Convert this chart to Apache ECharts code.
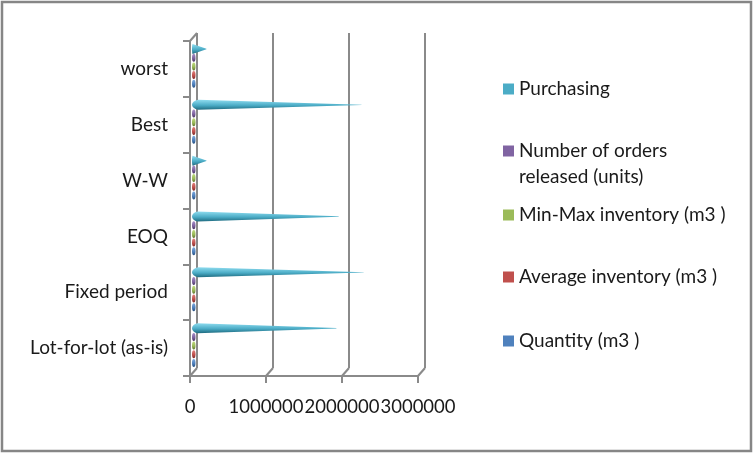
<!DOCTYPE html>
<html><head><meta charset="utf-8">
<style>html,body{margin:0;padding:0;background:#fff}#c{width:754px;height:454px}</style>
<script src="https://cdn.jsdelivr.net/npm/echarts@6/dist/echarts.min.js"></script>
</head><body><div id="c"></div>
<script>
const categories = ['Lot-for-lot (as-is)','Fixed period','EOQ','W-W','Best','worst'];
const quantity = [14000,14000,14000,14000,14000,14000];
const averageInventory = [5000,6000,5000,5000,5000,5000];
const minMaxInventory = [9000,11000,9000,9000,9000,9000];
const ordersReleased = [250,12,12,8,12,8];
const purchasing = [1900000,2260000,1930000,190000,2230000,190000];
const xTicks = [0,1000000,2000000,3000000];

const FONT = 'Lato';
const TEXT = '#1a1a1a';
const AXIS = '#8a8a8a';
const front = {left:190, top:41, width:228, height:335};
const wall  = {left:197, top:33, width:228, height:335};
const bars  = {left:192, top:38.5, width:228, height:335};

function grad(light, mid, dark){
  return {type:'linear',x:0,y:0,x2:0,y2:1,colorStops:[
    {offset:0,color:light},{offset:.55,color:mid},{offset:1,color:dark}]};
}
function small(name, data, light, mid, dark){
  return {name, type:'pictorialBar', xAxisIndex:2, yAxisIndex:2, data, barWidth:8.7, barGap:'0%',
    symbol:'circle', symbolSize:[3.5,8], symbolPosition:'start', symbolOffset:[0,0],
    itemStyle:{color:grad(light,mid,dark)}, z:5};
}
const names = ['Purchasing','Number of orders released (units)','Min-Max inventory (m3 )','Average inventory (m3 )','Quantity (m3 )'];
const legendColors = ['#4bacc6','#8064a2','#9bbb59','#c0504d','#4f81bd'];
const legendTops = [71,133,197,259,323];

const border = {type:'rect',silent:true,z:-1,shape:{x:2,y:2,width:749,height:449},
    style:{fill:'none',stroke:'#868686',lineWidth:2.5}};

const chart = echarts.init(document.getElementById('c'),null,{renderer:'canvas'});
chart.setOption({
  animation:false,
  backgroundColor:'#fff',
  textStyle:{fontFamily:FONT},
  color:legendColors,
  grid:[
    Object.assign({containLabel:false},front),
    Object.assign({containLabel:false},wall),
    Object.assign({containLabel:false},bars)
  ],
  xAxis:[
    {gridIndex:0,type:'value',min:0,max:3000000,interval:1000000,
     axisLine:{show:true,lineStyle:{color:AXIS,width:2}},
     axisTick:{show:true,length:7,lineStyle:{color:AXIS,width:2}},
     splitLine:{show:false},
     axisLabel:{color:TEXT,fontFamily:FONT,fontSize:18.5,margin:22,hideOverlap:false,showMinLabel:true,showMaxLabel:true,
       formatter:v=>String(v)}},
    {gridIndex:1,type:'value',min:0,max:3000000,interval:1000000,
     axisLine:{show:false},axisTick:{show:false},axisLabel:{show:false},
     splitLine:{show:true,lineStyle:{color:AXIS,width:2}}},
    {gridIndex:2,type:'value',min:0,max:3000000,show:false}
  ],
  yAxis:[
    {gridIndex:0,type:'category',data:categories,
     axisLine:{show:true,onZero:false,lineStyle:{color:AXIS,width:2}},
     axisTick:{show:true,length:7,alignWithLabel:false,lineStyle:{color:AXIS,width:2}},
     axisLabel:{color:TEXT,fontFamily:FONT,fontSize:19,margin:22,interval:0,padding:[2,0,0,0]}},
    {gridIndex:1,type:'category',data:categories,show:false},
    {gridIndex:2,type:'category',data:categories,show:false}
  ],
  legend:names.map((n,i)=>({
    data:[{name:n,icon:'rect',itemStyle:{color:legendColors[i]}}],
    orient:'vertical',left:498,top:i===1?legendTops[i]-26:legendTops[i],
    itemWidth:11,itemHeight:11,itemGap:0,selectedMode:false,
    formatter:i===1?()=>'\nNumber of orders\nreleased (units)':undefined,
    textStyle:{color:TEXT,fontFamily:FONT,fontSize:19,lineHeight:26}
  })),
  graphic:[border],
  series:[
    {name:names[0],type:'pictorialBar',xAxisIndex:2,yAxisIndex:2,data:purchasing,barWidth:8.7,barGap:'0%',
     symbol:'path://M4,0 L100,48 L100,52 L4,100 C-1,85 -1,15 4,0 Z',symbolSize:['100%',10],symbolPosition:'start',
     itemStyle:{color:grad('#8fdcef','#4bacc6','#1f6b80')},z:6},
    small(names[1],ordersReleased,'#a58cc6','#8064a2','#4a3664'),
    small(names[2],minMaxInventory,'#bcd87c','#9bbb59','#60752f'),
    small(names[3],averageInventory,'#dd7e7a','#c0504d','#7e2a28'),
    small(names[4],quantity,'#7aa7dc','#4f81bd','#264f80')
  ]
});
const floor = xTicks.map(v=>{
  const a = chart.convertToPixel({xAxisIndex:0},v), b = chart.convertToPixel({xAxisIndex:1},v);
  return {type:'line',silent:true,z:1,shape:{x1:a,y1:front.top+front.height,x2:b,y2:wall.top+wall.height},
    style:{stroke:AXIS,lineWidth:2}};
});
const topLine = {type:'line',silent:true,z:1,shape:{x1:front.left,y1:front.top,x2:wall.left,y2:wall.top},style:{stroke:AXIS,lineWidth:2}};
chart.setOption({graphic:[border,...floor,topLine]});
</script></body></html>
